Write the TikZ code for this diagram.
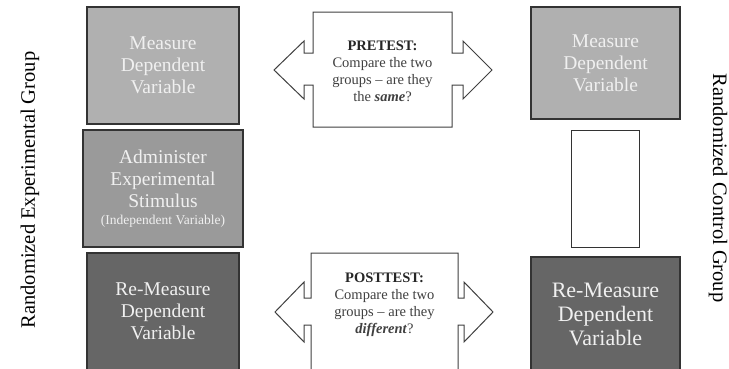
\documentclass[tikz,border=0pt]{standalone}
\usepackage{fontspec}
\setmainfont{Liberation Serif}
\definecolor{measfill}{HTML}{B0B0B0}
\definecolor{stimfill}{HTML}{9A9A9A}
\definecolor{refill}{HTML}{666666}
\definecolor{edgegray}{HTML}{333333}
\definecolor{notegray}{HTML}{404040}

\begin{document}
\begin{tikzpicture}[x=1pt, y=-1pt,
    stage/.style={draw=edgegray, line width=1.3pt, inner sep=0pt, align=center, text=white!94!black, font=\fontsize{19.5}{22}\selectfont},
    measure/.style={stage, fill=measfill},
    stimulus/.style={stage, fill=stimfill},
    remeasure/.style={stage, fill=refill},
    callout/.style={draw=notegray, line width=1pt, fill=white},
    note/.style={align=center, text=notegray, font=\fontsize{14.5}{17}\selectfont},
    side/.style={font=\fontsize{20.5}{24}\selectfont}
]
\useasboundingbox (0,0) rectangle (729,368);

% experimental group
\node[measure, minimum width=152pt, minimum height=117pt] (em) at (163,65.5) {Measure\\Dependent\\Variable};
\node[stimulus, minimum width=160pt, minimum height=117pt] (es) at (163,188.5) {Administer\\Experimental\\Stimulus\\[-5pt]{\fontsize{13.5}{14}\selectfont(Independent Variable)}};
\node[remeasure, minimum width=152pt, minimum height=117pt] (er) at (163,311.5) {Re-Measure\\Dependent\\Variable};

% control group
\node[measure, minimum width=149pt, minimum height=112pt] (cm) at (605.5,63) {Measure\\Dependent\\Variable};
\node[draw=edgegray, line width=1pt, fill=white, minimum width=68pt, minimum height=117pt] (cs) at (605,188.5) {};
\node[remeasure, minimum width=149pt, minimum height=115pt, font=\fontsize{22}{24}\selectfont] (cr) at (605.5,314.5) {Re-Measure\\Dependent\\Variable};

% group labels
\node[side, rotate=90] (eg) at (30,190) {Randomized Experimental Group};
\node[side, rotate=-90] (cg) at (718,188) {Randomized Control Group};

% pretest
\draw[callout] (313,12) -- (452,12) -- (452,53) -- (463,53) -- (463,41) -- (492,70) -- (463,99) -- (463,85) -- (452,85) -- (452,127)
    -- (313,127) -- (313,85) -- (304,85) -- (304,99) -- (274,70) -- (304,41) -- (304,53) -- (313,53) -- cycle;
\node[note] (pre) at (382.5,71) {\textbf{\color{black!85}PRETEST:}\\Compare the two\\groups -- are they\\the \textbf{\textit{same}}?};

% posttest
\draw[callout] (311,253) -- (458,253) -- (458,298) -- (464,298) -- (464,282) -- (493,312) -- (464,342) -- (464,325) -- (458,325) -- (458,371)
    -- (311,371) -- (311,325) -- (304,325) -- (304,342) -- (275,312) -- (304,282) -- (304,298) -- (311,298) -- cycle;
\node[note] (post) at (384.5,305) {\textbf{\color{black!85}POSTTEST:}\\Compare the two\\groups -- are they\\\textbf{\textit{different}}?};
\end{tikzpicture}
\end{document}
